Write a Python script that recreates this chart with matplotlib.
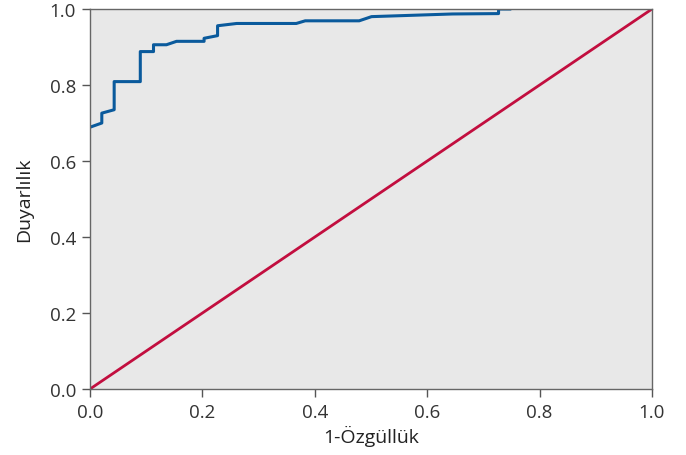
import matplotlib
matplotlib.use('Agg')
import matplotlib.pyplot as plt

# ROC curve (1-specificity, sensitivity)
fpr = [0.0, 0.021, 0.021, 0.043, 0.043, 0.0895, 0.0895, 0.113, 0.113, 0.136,
       0.154, 0.203, 0.203, 0.227, 0.227, 0.261, 0.367, 0.383, 0.479, 0.501,
       0.645, 0.727, 0.727, 0.747]
tpr = [0.689, 0.700, 0.726, 0.735, 0.809, 0.809, 0.888, 0.888, 0.906, 0.906,
       0.915, 0.915, 0.923, 0.930, 0.956, 0.962, 0.962, 0.969, 0.969, 0.980,
       0.987, 0.988, 1.0, 1.0]
ref_line = [0.0, 1.0]
ticks = [0.0, 0.2, 0.4, 0.6, 0.8, 1.0]

plt.rcParams['font.family'] = ['Open Sans', 'DejaVu Sans']

fig = plt.figure(figsize=(6.86, 4.56), dpi=100)
ax = fig.add_axes([0.1312, 0.1447, 0.8192, 0.8333])
ax.set_facecolor('#e8e8e8')

ax.plot(ref_line, ref_line, color='#c20e3f', lw=2, zorder=2)
ax.plot(fpr, tpr, color='#0a5a9c', lw=2.2, zorder=3)

ax.set_xlim(0, 1)
ax.set_ylim(0, 1)
ax.set_xticks(ticks)
ax.set_yticks(ticks)
ax.set_xticklabels(['%.1f' % t for t in ticks])
ax.set_yticklabels(['%.1f' % t for t in ticks])
ax.tick_params(direction='out', length=6, width=1, color='#555555',
               labelsize=13.5, labelcolor='#333333', pad=4)
for sp in ax.spines.values():
    sp.set_color('#666666')
    sp.set_linewidth(1)
    sp.set_zorder(4)

ax.set_xlabel('1-Özgüllük', fontsize=14, color='#222222', labelpad=3)
ax.set_ylabel('Duyarlılık', fontsize=14, color='#222222', labelpad=12)

fig.savefig('out.png', dpi=100)
